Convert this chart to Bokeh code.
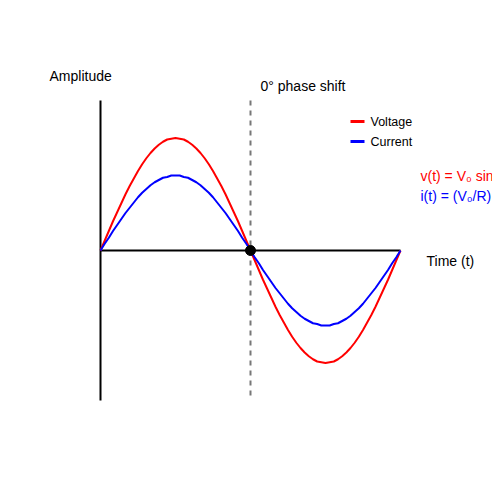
from bokeh.plotting import figure
from bokeh.models import Range1d, Label
from bokeh.embed import file_html
from bokeh.resources import INLINE

# Phase angle (degrees) over one period, 5-degree steps
angle_deg = [0, 5, 10, 15, 20, 25, 30, 35, 40, 45, 50, 55, 60, 65, 70, 75, 80, 85, 90,
             95, 100, 105, 110, 115, 120, 125, 130, 135, 140, 145, 150, 155, 160, 165, 170, 175, 180,
             185, 190, 195, 200, 205, 210, 215, 220, 225, 230, 235, 240, 245, 250, 255, 260, 265, 270,
             275, 280, 285, 290, 295, 300, 305, 310, 315, 320, 325, 330, 335, 340, 345, 350, 355, 360]
# Voltage (peak 1.5), in phase with current
voltage = [0, 0.13, 0.26, 0.39, 0.51, 0.63, 0.75, 0.86, 0.96, 1.06, 1.15, 1.23, 1.30, 1.36, 1.41, 1.45, 1.48, 1.49, 1.50,
           1.49, 1.48, 1.45, 1.41, 1.36, 1.30, 1.23, 1.15, 1.06, 0.96, 0.86, 0.75, 0.63, 0.51, 0.39, 0.26, 0.13, 0,
           -0.13, -0.26, -0.39, -0.51, -0.63, -0.75, -0.86, -0.96, -1.06, -1.15, -1.23, -1.30, -1.36, -1.41, -1.45, -1.48, -1.49, -1.50,
           -1.49, -1.48, -1.45, -1.41, -1.36, -1.30, -1.23, -1.15, -1.06, -0.96, -0.86, -0.75, -0.63, -0.51, -0.39, -0.26, -0.13, 0]
# Current (peak 1.0)
current = [0, 0.09, 0.17, 0.26, 0.34, 0.42, 0.50, 0.57, 0.64, 0.71, 0.77, 0.82, 0.87, 0.91, 0.94, 0.97, 0.98, 1.00, 1.00,
           1.00, 0.98, 0.97, 0.94, 0.91, 0.87, 0.82, 0.77, 0.71, 0.64, 0.57, 0.50, 0.42, 0.34, 0.26, 0.17, 0.09, 0,
           -0.09, -0.17, -0.26, -0.34, -0.42, -0.50, -0.57, -0.64, -0.71, -0.77, -0.82, -0.87, -0.91, -0.94, -0.97, -0.98, -1.00, -1.00,
           -1.00, -0.98, -0.97, -0.94, -0.91, -0.87, -0.82, -0.77, -0.71, -0.64, -0.57, -0.50, -0.42, -0.34, -0.26, -0.17, -0.09, 0]
axis_x = [0, 360]
axis_y = [-2, 2]
zero_cross = [180]
series_names = ["Voltage", "Current"]
series_colors = ["red", "blue"]
formulas = ["v(t) = V\u2080 sin(\u03c9t)", "i(t) = (V\u2080/R) sin(\u03c9t)"]

FONT = "Liberation Sans"
W = 492

def X(px):
    return (px - 100) * 1.2

def Y(py):
    return (250 - py) / 75.0

p = figure(width=W, height=W, output_backend="svg", toolbar_location=None,
           x_range=Range1d(X(0), X(W)), y_range=Range1d(Y(W), Y(0)),
           min_border=0, min_border_left=0, min_border_right=0,
           min_border_top=0, min_border_bottom=0)
p.axis.visible = False
p.grid.visible = False
p.outline_line_color = None
p.background_fill_color = "white"
p.border_fill_color = "white"

# axes
p.line([0, 0], axis_y, line_color="black", line_width=2)
p.line(axis_x, [0, 0], line_color="black", line_width=2)
# dashed phase line
p.line([zero_cross[0], zero_cross[0]], [axis_y[1], Y(395)], line_color="#777777",
       line_width=2, line_dash="5 5")

# curves
p.line(angle_deg, voltage, line_color=series_colors[0], line_width=2)
p.line(angle_deg, current, line_color=series_colors[1], line_width=2)

# zero-crossing dot
p.scatter(zero_cross, [0], size=10, fill_color="black", line_color="black")

def lbl(txt, px, py, size, color="black"):
    p.add_layout(Label(x=X(px), y=Y(py), text=txt, text_font=FONT,
                       text_font_size=f"{size}px", text_color=color,
                       text_baseline="middle", text_align="left"))

lbl("Amplitude", 49, 75, 14)
lbl("0\u00b0 phase shift", 260, 85, 14)
lbl("Time (t)", 426, 260, 14)

# legend
for i, (name, col) in enumerate(zip(series_names, series_colors)):
    py = 121 + 20 * i
    p.line([X(350), X(364)], [Y(py), Y(py)], line_color=col, line_width=3)
    lbl(name, 370, py, 12.5)

# formulas
for i, (f, col) in enumerate(zip(formulas, series_colors)):
    lbl(f, 420, 175 + 20 * i, 14, col)

open("out.html", "w").write(file_html(p, INLINE))
